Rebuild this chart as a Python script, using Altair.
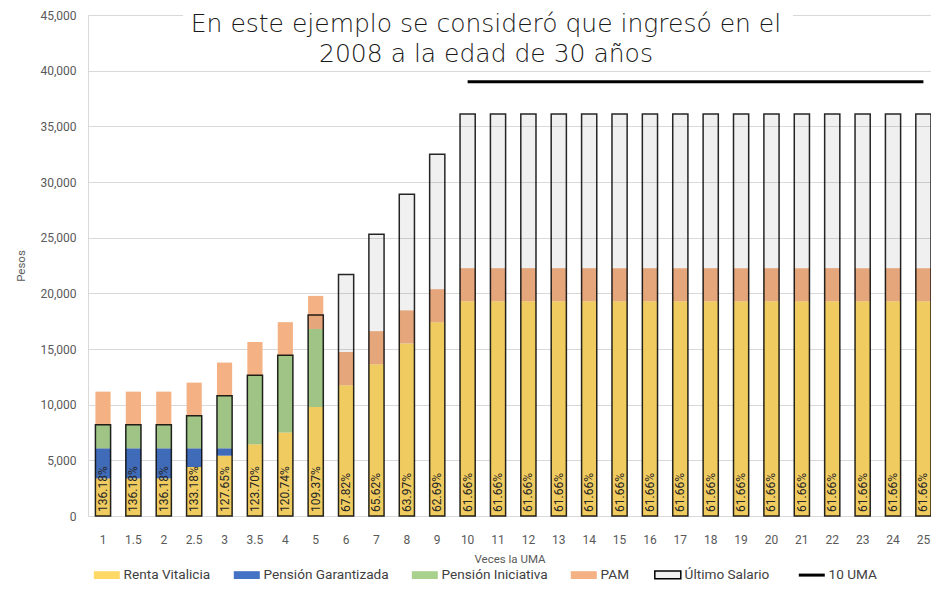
import altair as alt
import pandas as pd

# ---------------- data ----------------
categorias = ["1", "1.5", "2", "2.5", "3", "3.5", "4", "5", "6", "7", "8", "9",
              "10", "11", "12", "13", "14", "15", "16", "17", "18", "19", "20",
              "21", "22", "23", "24", "25"]
renta_vitalicia = [3380, 3380, 3380, 4400, 5420, 6440, 7500, 9800, 11750, 13630, 15500, 17400] + [19290] * 16
pension_garantizada = [2700, 2700, 2700, 1680, 660, 0, 0, 0, 0, 0, 0, 0] + [0] * 16
pension_iniciativa = [2120, 2120, 2120, 2920, 4720, 6210, 6940, 7000, 0, 0, 0, 0] + [0] * 16
pam = [2970, 2970, 2970, 2980, 2980, 2980, 2970, 2970, 2970, 2970, 2970, 2970] + [2970] * 16
ultimo_salario = [8200, 8200, 8200, 9000, 10800, 12640, 14440, 18050, 21700, 25300, 28900, 32500] + [36100] * 16
porcentajes = ["136.18%", "136.18%", "136.18%", "133.18%", "127.65%", "123.70%", "120.74%",
               "109.37%", "67.82%", "65.62%", "63.97%", "62.69%"] + ["61.66%"] * 16
uma10_valor = 39000
uma10_desde, uma10_hasta = "10", "25"
titulo = ["En este ejemplo se consideró que ingresó en el", "2008 a la edad de 30 años"]

series = ["Renta Vitalicia", "Pensión Garantizada", "Pensión Iniciativa", "PAM", "Último Salario", "10 UMA"]
colores = ["#ffd966", "#4472c4", "#a9d18e", "#f4b183", "#f0f0f0", "#000000"]

# ---------------- tables ----------------
filas = []
for i, c in enumerate(categorias):
    for k, (nombre, vals) in enumerate([("Renta Vitalicia", renta_vitalicia),
                                        ("Pensión Garantizada", pension_garantizada),
                                        ("Pensión Iniciativa", pension_iniciativa),
                                        ("PAM", pam)]):
        filas.append({"cat": c, "serie": nombre, "valor": vals[i], "orden": k})
df_stack = pd.DataFrame(filas)
df_sal = pd.DataFrame({"cat": categorias, "salario": ultimo_salario, "pct": porcentajes})
df_uma = pd.DataFrame({"cat": [uma10_desde], "cat2": [uma10_hasta], "y": [uma10_valor]})

FONT = "Roboto"
GRAY = "#595959"

x_scale = alt.Scale(domain=categorias, paddingInner=0.5, paddingOuter=0.122, align=1, round=False)
x_axis = alt.Axis(title="Veces la UMA", labelAngle=0, labelFont=FONT, labelFontSize=12,
                  labelColor=GRAY, titleFont=FONT, titleFontSize=11.5, titleColor=GRAY,
                  titleFontWeight="normal", ticks=False, labelPadding=18, titlePadding=8,
                  domainColor="#d9d9d9", grid=False)
y_scale = alt.Scale(domain=[0, 45000], nice=False)
y_axis = alt.Axis(title="Pesos", values=list(range(0, 45001, 5000)), format=",.0f",
                  labelFont=FONT, labelFontSize=12, labelColor=GRAY, titleFont=FONT,
                  titleFontSize=11.5, titleColor=GRAY, titleFontWeight="normal",
                  ticks=False, labelPadding=12, minExtent=50, maxExtent=50, titlePadding=12,
                  domainColor="#d9d9d9", gridColor="#d9d9d9")

RECT = "M-1,-0.3H1V0.3H-1Z"
legend = alt.Legend(
    orient="none", legendX=12, legendY=553, direction="horizontal", columns=6, title=None,
    symbolType=alt.ExprRef(f"datum.value === '10 UMA' ? 'M-1,0H1' : '{RECT}'"),
    symbolSize=676, symbolOpacity=1,
    symbolStrokeColor=alt.ExprRef("(datum.value === 'Último Salario' || datum.value === '10 UMA') ? '#000000' : 'transparent'"),
    symbolStrokeWidth=alt.ExprRef("datum.value === '10 UMA' ? 3 : (datum.value === 'Último Salario' ? 1.5 : 0)"),
    labelFont=FONT, labelFontSize=13.6, labelColor="#404040", labelOffset=10, columnPadding=22,
)

stack = alt.Chart(df_stack).mark_bar().encode(
    x=alt.X("cat:N", scale=x_scale, axis=x_axis),
    y=alt.Y("valor:Q", stack="zero", scale=y_scale, axis=y_axis),
    color=alt.Color("serie:N", scale=alt.Scale(domain=series, range=colores), legend=legend),
    order=alt.Order("orden:Q"),
)

salario = alt.Chart(df_sal).mark_bar(fill="#000000", fillOpacity=0.06, stroke="#000000",
                                     strokeOpacity=0.85, strokeWidth=1.5).encode(
    x=alt.X("cat:N", scale=x_scale),
    y=alt.Y("salario:Q"),
)

etiquetas = alt.Chart(df_sal).mark_text(angle=270, align="left", baseline="middle", dx=4,
                                        font=FONT, fontSize=12, color="#262626").encode(
    x=alt.X("cat:N", scale=x_scale),
    y=alt.datum(0),
    text="pct:N",
)

uma = alt.Chart(df_uma).mark_rule(color="#000000", strokeWidth=3).encode(
    x=alt.X("cat:N", scale=x_scale),
    x2="cat2:N",
    y="y:Q",
)

fondo = alt.Chart(df_uma).mark_rect(fill="white").encode(
    x=alt.value(95), x2=alt.value(705), y=alt.value(-8), y2=alt.value(52),
)
t1 = alt.Chart(df_uma).mark_text(font="DejaVu Sans", fontSize=25, fontWeight=200, color="#1a1a1a",
                                 baseline="middle", align="center").encode(
    x=alt.value(398), y=alt.value(9), text=alt.value(titulo[0]))
t2 = alt.Chart(df_uma).mark_text(font="DejaVu Sans", fontSize=25, fontWeight=200, color="#1a1a1a",
                                 baseline="middle", align="center").encode(
    x=alt.value(398), y=alt.value(39), text=alt.value(titulo[1]))

chart = alt.layer(stack, salario, etiquetas, uma, fondo, t1, t2).properties(
    width=843, height=501,
    autosize=alt.AutoSizeParams(type="none"),
    padding={"left": 80, "top": 7, "right": 0, "bottom": 74},
).configure_view(stroke=None).configure_axis(domainWidth=1, gridWidth=1)

chart.save("out.html", embed_options={"renderer": "svg", "actions": False})
